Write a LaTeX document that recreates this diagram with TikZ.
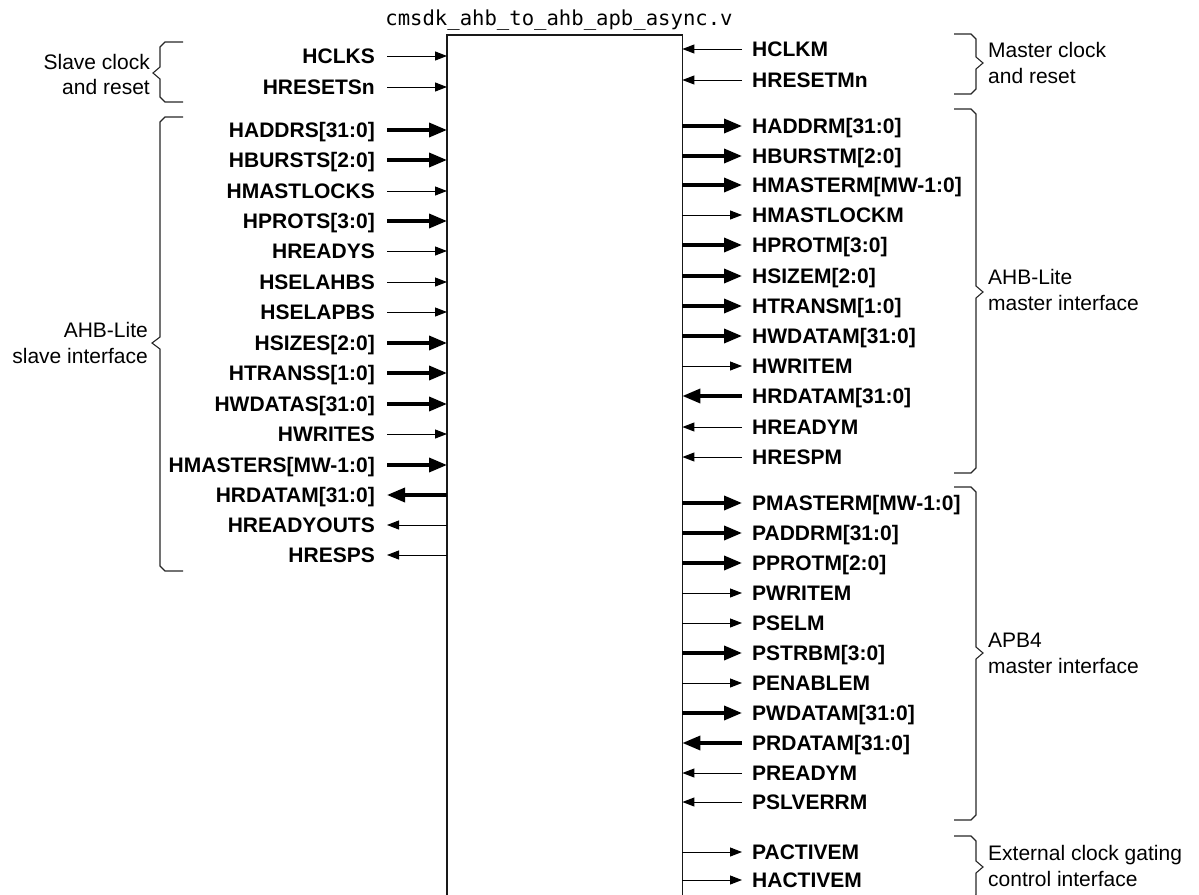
\documentclass[tikz,border=0pt]{standalone}
\usepackage{fontspec}
\setmainfont{Liberation Sans}
\setmonofont{DejaVu Sans Mono}
\usetikzlibrary{arrows.meta}
\newcommand\mybraceL[6]{\draw[brc] (#6,#1) -- (#4+5,#1) -- (#4,#1+5) -- (#4,#3-6) -- (#5,#3) -- (#4,#3+6) -- (#4,#2-5) -- (#4+5,#2) -- (#6,#2);}
\newcommand\mybraceR[6]{\draw[brc] (#6,#1) -- (#4-5,#1) -- (#4,#1+5) -- (#4,#3-6) -- (#5,#3) -- (#4,#3+6) -- (#4,#2-5) -- (#4-5,#2) -- (#6,#2);}
\begin{document}
\begin{tikzpicture}[x=1pt,y=-1pt,
  sigL/.style={font=\fontsize{21}{25}\selectfont\bfseries, inner xsep=12pt, inner ysep=0pt, text height=14pt, text depth=0pt, anchor=east},
  sigR/.style={font=\fontsize{21}{25}\selectfont\bfseries, inner xsep=10pt, inner ysep=0pt, text height=14pt, text depth=0pt, anchor=west},
  grpL/.style={font=\fontsize{21}{25}\selectfont, inner sep=0pt, anchor=base east},
  grpR/.style={font=\fontsize{21}{25}\selectfont, inner sep=0pt, anchor=base west},
  brc/.style={line width=1.1pt, black!85},
  boxline/.style={line width=1.2pt, black!90},
  sigi/.style={line width=1pt, -{Triangle[length=12pt,width=9pt]}},
  sigI/.style={line width=3.5pt, -{Triangle[length=18pt,width=14pt]}},
  sigo/.style={line width=1pt, {Triangle[length=12pt,width=9pt]}-},
  sigO/.style={line width=3.5pt, {Triangle[length=18pt,width=14pt]}-},
]
\useasboundingbox (0,0) rectangle (1199,894);
% module box (open at the bottom)
\node[minimum width=235pt, minimum height=880pt, inner sep=0pt, anchor=north west] (box) at (447,35) {};
\draw[boxline] (box.south west) -- (box.north west) -- (box.north east) -- (box.south east);
\node[font=\fontsize{20.6}{24}\selectfont\ttfamily, anchor=base, inner sep=0pt] (title) at (559,25) {cmsdk\_ahb\_to\_ahb\_apb\_async.v};
% left side signals
\foreach \y/\t/\k [count=\i] in {
  56/HCLKS/i, 87/HRESETSn/i, 130/HADDRS[31:0]/I, 160/HBURSTS[2:0]/I,
  191/HMASTLOCKS/i, 221/HPROTS[3:0]/I, 251/HREADYS/i, 282/HSELAHBS/i,
  312/HSELAPBS/i, 343/HSIZES[2:0]/I, 373/HTRANSS[1:0]/I, 404/HWDATAS[31:0]/I,
  434/HWRITES/i, 465/HMASTERS[MW-1:0]/I, 495/HRDATAM[31:0]/O, 525/HREADYOUTS/o,
  555/HRESPS/o}{
  \node[sigL] (L\i) at (387,\y) {\t};
  \draw[sig\k] (L\i.east) -- (L\i.east -| box.west);
}
% right side signals
\foreach \y/\t/\k [count=\i] in {
  49/HCLKM/i, 80/HRESETMn/i, 126/HADDRM[31:0]/O, 156/HBURSTM[2:0]/O,
  185/HMASTERM[MW-1:0]/O, 215/HMASTLOCKM/o, 245/HPROTM[3:0]/O, 276/HSIZEM[2:0]/O,
  306/HTRANSM[1:0]/O, 336/HWDATAM[31:0]/O, 366/HWRITEM/o, 396/HRDATAM[31:0]/I,
  427/HREADYM/i, 457/HRESPM/i,
  503/PMASTERM[MW-1:0]/O, 533/PADDRM[31:0]/O, 563/PPROTM[2:0]/O, 593/PWRITEM/o,
  623/PSELM/o, 653/PSTRBM[3:0]/O, 683/PENABLEM/o, 713/PWDATAM[31:0]/O,
  743/PRDATAM[31:0]/I, 773/PREADYM/i, 802/PSLVERRM/i,
  852/PACTIVEM/o, 880/HACTIVEM/o}{
  \node[sigR] (R\i) at (742,\y) {\t};
  \draw[sig\k] (R\i.west) -- (R\i.west -| box.east);
}
% braces
\mybraceL{42}{102}{73}{160}{153}{183}
\mybraceL{117}{571}{343}{160}{152}{183}
\mybraceR{34}{94}{63}{976}{983}{954}
\mybraceR{109}{473}{292}{976}{983}{954}
\mybraceR{487}{820}{653}{976}{983}{954}
\mybraceR{836}{900}{867}{976}{983}{954}
% group labels
\node[grpL] (g1a) at (150,69) {Slave clock};
\node[grpL] (g1b) at (150,94) {and reset};
\node[grpL] (g2a) at (148,337) {AHB-Lite};
\node[grpL] (g2b) at (148,363) {slave interface};
\node[grpR] (g3a) at (988,57) {Master clock};
\node[grpR] (g3b) at (988,83) {and reset};
\node[grpR] (g4a) at (988,284) {AHB-Lite};
\node[grpR] (g4b) at (988,310) {master interface};
\node[grpR] (g5a) at (988,647) {APB4};
\node[grpR] (g5b) at (988,673) {master interface};
\node[grpR] (g6a) at (988,860) {External clock gating};
\node[grpR] (g6b) at (988,886) {control interface};
\end{tikzpicture}
\end{document}
